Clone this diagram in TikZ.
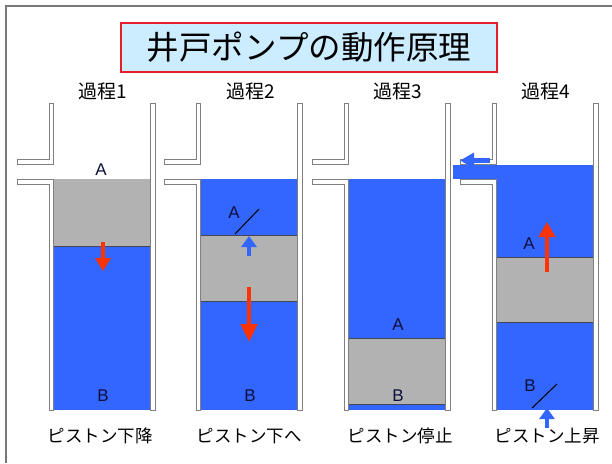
\documentclass[tikz,border=0pt]{standalone}
\usepackage{fontspec}
\setmainfont{Liberation Sans}
\newfontfamily\jpfont{Noto Sans CJK JP}
\usetikzlibrary{arrows.meta}

\definecolor{water}{RGB}{51,102,255}
\definecolor{pistongray}{RGB}{178,178,178}
\definecolor{pistonedge}{RGB}{70,70,90}
\definecolor{wallgray}{RGB}{128,128,128}
\definecolor{framegray}{RGB}{120,120,120}
\definecolor{arrowred}{RGB}{255,51,0}
\definecolor{titlefill}{RGB}{204,236,255}
\definecolor{titleedge}{RGB}{230,30,40}
\definecolor{labelink}{RGB}{15,15,60}

% walls of one pump cylinder, #1 = x of the outer left wall line
\newcommand\pumpwalls[1]{%
  \draw[wall] ({#1},103) -- ({#1},159) -- ({#1-32},159) -- ({#1-32},164)
        -- ({#1+4.5},164) -- ({#1+4.5},103) -- cycle;
  \draw[wall] ({#1-32},179) -- ({#1+4.5},179) -- ({#1+4.5},410)
        -- ({#1},410) -- ({#1},184) -- ({#1-32},184) -- cycle;
  \draw[wall] ({#1+101},103) rectangle ({#1+106},410);
}

\begin{document}
\begin{tikzpicture}[x=1pt,y=-1pt,
  wall/.style={draw=wallgray, line width=0.8pt, fill=white},
  piston/.style={draw=pistonedge, line width=0.4pt},
  title/.style={draw=titleedge, line width=1.5pt, fill=titlefill,
    minimum width=376pt, minimum height=49pt, inner sep=0pt,
    font=\jpfont\fontsize{32.5}{32.5}\selectfont},
  steplabel/.style={font=\jpfont\fontsize{19}{19}\selectfont},
  caption/.style={font=\jpfont\fontsize{17.5}{17.5}\selectfont},
  letter/.style={font=\fontsize{17}{17}\selectfont, text=labelink, inner sep=0pt},
  valve/.style={draw=black, line width=1pt},
  redarrow/.style={draw=arrowred, line width=4.5pt,
    -{Triangle[length=14pt,width=15pt]}},
  bluearrow/.style={draw=water, line width=4.5pt,
    -{Triangle[length=11pt,width=15pt]}}]

\useasboundingbox (0,0) rectangle (612,463);
\fill[white] (0,0) rectangle (612,463);

% sheet frame
\draw[framegray, line width=1.8pt] (6,463) -- (6,6) -- (612,6);

% title
\node[title] (title) at (309,47.5) {井戸ポンプの動作原理};

% step headings
\node[steplabel] (h1) at (103,91) {過程1};
\node[steplabel] (h2) at (251,91) {過程2};
\node[steplabel] (h3) at (398,91) {過程3};
\node[steplabel] (h4) at (546,91) {過程4};

% cylinder contents
% step 1
\fill[pistongray] (53.5,179) rectangle (150,246);
\fill[water] (53.5,246) rectangle (150,410);
\draw[piston] (53.5,246) -- (150,246);
% step 2
\fill[water] (200.5,179) rectangle (297,235);
\fill[pistongray] (200.5,235) rectangle (297,301);
\fill[water] (200.5,301) rectangle (297,410);
\draw[piston] (200.5,235) -- (297,235) (200.5,301) -- (297,301);
% step 3
\fill[water] (348.5,179) rectangle (445,338);
\fill[pistongray] (348.5,338) rectangle (445,404);
\fill[water] (348.5,404) rectangle (445,410);
\draw[piston] (348.5,338) -- (445,338) (348.5,404) -- (445,404);
% step 4
\fill[water] (496.5,164.5) rectangle (593,257);
\fill[pistongray] (496.5,257) rectangle (593,322);
\fill[water] (496.5,322) rectangle (593,410);
\draw[piston] (496.5,257) -- (593,257) (496.5,322) -- (593,322);

% cylinder walls with spouts
\pumpwalls{49}
\pumpwalls{196}
\pumpwalls{344}
\pumpwalls{492}

% water leaving the spout
\fill[water] (453,164.5) rectangle (503,179);

% letters
\node[letter] (a1) at (101,170) {A};
\node[letter] (b1) at (103,396) {B};
\node[letter] (a2) at (234,213) {A};
\node[letter] (b2) at (250,396) {B};
\node[letter] (a3) at (398,325) {A};
\node[letter] (b3) at (398,396) {B};
\node[letter] (a4) at (529,244) {A};
\node[letter] (b4) at (530,386) {B};

% open valves
\coordinate (v2a) at (235,234); \coordinate (v2b) at (259,209);
\draw[valve] (v2a) -- (v2b);
\coordinate (v4a) at (532,408); \coordinate (v4b) at (557,384);
\draw[valve] (v4a) -- (v4b);

% motion arrows
\coordinate (r1s) at (103,242); \coordinate (r1e) at (103,271);
\draw[redarrow, -{Triangle[length=13pt,width=15pt]}] (r1s) -- (r1e);
\coordinate (r2s) at (249,287); \coordinate (r2e) at (249,342);
\draw[redarrow, -{Triangle[length=18pt,width=16pt]}] (r2s) -- (r2e);
\coordinate (r4s) at (547,272); \coordinate (r4e) at (547,222);
\draw[redarrow, -{Triangle[length=15pt,width=16pt]}] (r4s) -- (r4e);

\coordinate (u2s) at (249,256); \coordinate (u2e) at (249,236);
\draw[bluearrow] (u2s) -- (u2e);
\coordinate (u4s) at (547,428); \coordinate (u4e) at (547,408);
\draw[bluearrow] (u4s) -- (u4e);
\coordinate (o4s) at (490,160.5); \coordinate (o4e) at (460,160.5);
\draw[bluearrow, -{Triangle[length=14pt,width=15pt]}] (o4s) -- (o4e);

% captions
\node[caption] (c1) at (100,436) {ピストン下降};
\node[caption] (c2) at (249,436) {ピストン下へ};
\node[caption] (c3) at (400,436) {ピストン停止};
\node[caption] (c4) at (547,436) {ピストン上昇};
\end{tikzpicture}
\end{document}
